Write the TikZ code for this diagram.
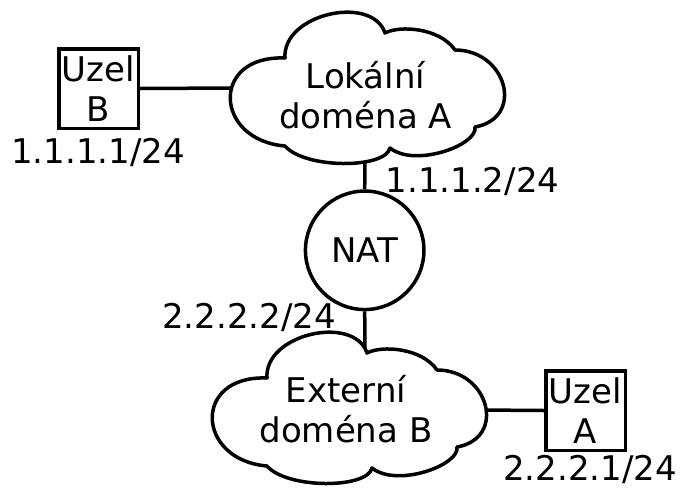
\documentclass[tikz,border=0pt]{standalone}
\usepackage{fontspec}
\setmainfont{DejaVu Sans}
\usetikzlibrary{backgrounds}

\tikzset{
  pics/domaincloud/.style={
    code={
      \draw[cloudedge]
        (285,58) .. controls (282,14) and (372,-6) .. (385,33)
        .. controls (400,25) and (440,28) .. (455,50)
        .. controls (507,50) and (525,118) .. (475,127)
        .. controls (478,145) and (415,168) .. (390,148)
        .. controls (385,169) and (305,169) .. (285,146)
        .. controls (214,140) and (210,55) .. (285,58)
        -- cycle;
    }
  }
}

\begin{document}
\begin{tikzpicture}[x=1pt,y=-1pt,
  every node/.style={font=\fontsize{34}{40}\selectfont, inner sep=0pt},
  hostbox/.style={draw, line width=3.5pt, fill=white, minimum size=79.5pt, align=center},
  natnode/.style={draw, circle, line width=3.5pt, fill=white, minimum size=118.5pt},
  link/.style={line width=3.5pt},
  cloudedge/.style={draw, line width=3.5pt, fill=white, line join=round},
  domaintext/.style={align=center},
  addr/.style={anchor=base}]

  \useasboundingbox (0,0) rectangle (680,488);

  % hosts and the NAT router
  \node[hostbox] (uzelB) at (98.5,88.5) {Uzel\\B};
  \node[hostbox] (uzelA) at (585.5,410.5) {Uzel\\A};
  \node[natnode] (nat) at (364.7,250.3) {NAT};

  % attachment points on the two domain clouds
  \coordinate (domA-west)  at (234,88);
  \coordinate (domA-south) at (365,158);
  \coordinate (domB-north) at (365,358);
  \coordinate (domB-east)  at (480,410);

  % links, kept behind the clouds
  \begin{scope}[on background layer]
    \draw[link] (uzelB.east) -- (domA-west);
    \draw[link] (domA-south) -- (nat.north);
    \draw[link] (nat.south) -- (domB-north);
    \draw[link] (domB-east) -- (uzelA.west);
  \end{scope}

  % domain clouds
  \pic at (0,0) {domaincloud};
  \pic at (-18,320) {domaincloud};
  \node[domaintext] (domA) at (365.5,95) {Lokální\\doména A};
  \node[domaintext] (domB) at (346,409.6) {Externí\\doména B};

  % interface addresses
  \node[addr] (ipB)    at (98,163)  {1.1.1.1/24};
  \node[addr] (ipNATa) at (472.5,192) {1.1.1.2/24};
  \node[addr] (ipNATb) at (249,328) {2.2.2.2/24};
  \node[addr] (ipA)    at (590,480) {2.2.2.1/24};
\end{tikzpicture}
\end{document}
